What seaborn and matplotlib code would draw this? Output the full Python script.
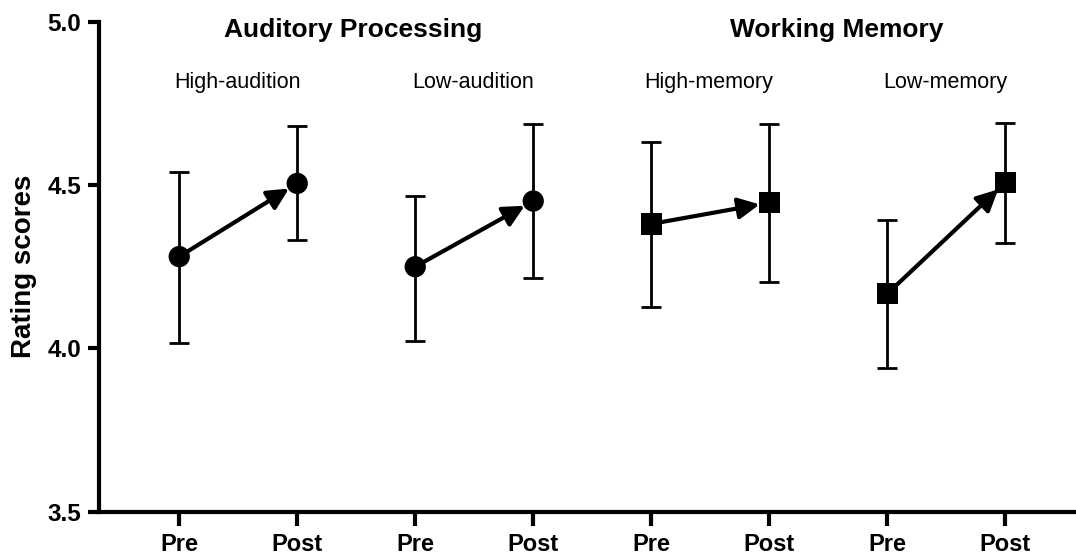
import matplotlib
matplotlib.use("Agg")
import matplotlib.pyplot as plt
import seaborn as sns
import pandas as pd
import numpy as np

# ---- data ----
groups = ["High-audition", "Low-audition", "High-memory", "Low-memory"]
domains = ["Auditory", "Auditory", "Memory", "Memory"]
domain_titles = ["Auditory Processing", "Working Memory"]
phases = ["Pre", "Post"]

pre_mean = [4.281, 4.250, 4.381, 4.167]
pre_low = [4.017, 4.024, 4.128, 3.941]
pre_high = [4.541, 4.466, 4.633, 4.393]

post_mean = [4.505, 4.451, 4.446, 4.507]
post_low = [4.332, 4.215, 4.204, 4.322]
post_high = [4.682, 4.687, 4.686, 4.691]

y_ticks = [3.5, 4.0, 4.5, 5.0]

# ---- long table ----
rows = []
for i, g in enumerate(groups):
    for j, (m, lo, hi) in enumerate([(pre_mean[i], pre_low[i], pre_high[i]),
                                     (post_mean[i], post_low[i], post_high[i])]):
        rows.append(dict(group=g, domain=domains[i], phase=phases[j],
                         pos=2 * i + j, mean=m, low=lo, high=hi))
df = pd.DataFrame(rows)

sns.set_style("ticks")
plt.rcParams["font.family"] = ["Liberation Sans", "DejaVu Sans"]
plt.rcParams["text.color"] = "black"
plt.rcParams["axes.labelcolor"] = "black"

fig = plt.figure(figsize=(10.76, 5.57), dpi=100)
ax = fig.add_axes([0.092, 0.0813, 0.908, 0.8797])

# error bars
ax.errorbar(df["pos"], df["mean"],
            yerr=[df["mean"] - df["low"], df["high"] - df["mean"]],
            fmt="none", ecolor="black", elinewidth=2, capsize=7, capthick=2,
            zorder=2)

# arrows pre -> post
for g in groups:
    sub = df[df["group"] == g]
    p0 = sub[sub["phase"] == "Pre"].iloc[0]
    p1 = sub[sub["phase"] == "Post"].iloc[0]
    ax.annotate("", xy=(p1["pos"], p1["mean"]), xytext=(p0["pos"], p0["mean"]),
                arrowprops=dict(arrowstyle="-|>", color="black", lw=3,
                                mutation_scale=32, shrinkA=0, shrinkB=7),
                zorder=3)

# markers
sns.scatterplot(data=df, x="pos", y="mean", style="domain",
                markers={"Auditory": "o", "Memory": "s"},
                color="black", s=235, linewidth=0, legend=False, ax=ax, zorder=4)

# headers
for k, t in enumerate(domain_titles):
    xc = [1.47, 5.57][k]
    ax.text(xc, 4.953, t, ha="center", va="baseline", fontsize=19,
            fontweight="bold", color="black")
for i, g in enumerate(groups):
    ax.text(2 * i + 0.49, 4.797, g, ha="center", va="baseline", fontsize=15.5,
            color="black")

# axes styling
ax.set_xlim(-0.68, 7.6)
ax.set_ylim(3.5, 5.0)
ax.set_xticks(df["pos"])
ax.set_xticklabels(df["phase"], fontsize=17, fontweight="bold")
ax.set_yticks(y_ticks)
ax.set_yticklabels([f"{v:.1f}" for v in y_ticks], fontsize=17.5, fontweight="bold")
ax.set_xlabel("")
ax.set_ylabel("Rating scores", fontsize=20, fontweight="bold", color="black")
ax.yaxis.set_label_coords(-0.063, 0.5)

for s in ["top", "right"]:
    ax.spines[s].set_visible(False)
for s in ["left", "bottom"]:
    ax.spines[s].set_linewidth(3)
    ax.spines[s].set_color("black")
ax.tick_params(axis="y", length=8, width=3, pad=5, color="black", labelcolor="black")
ax.tick_params(axis="x", length=10, width=3, pad=5, color="black", labelcolor="black")
ax.grid(False)

fig.savefig("out.png", dpi=100)
